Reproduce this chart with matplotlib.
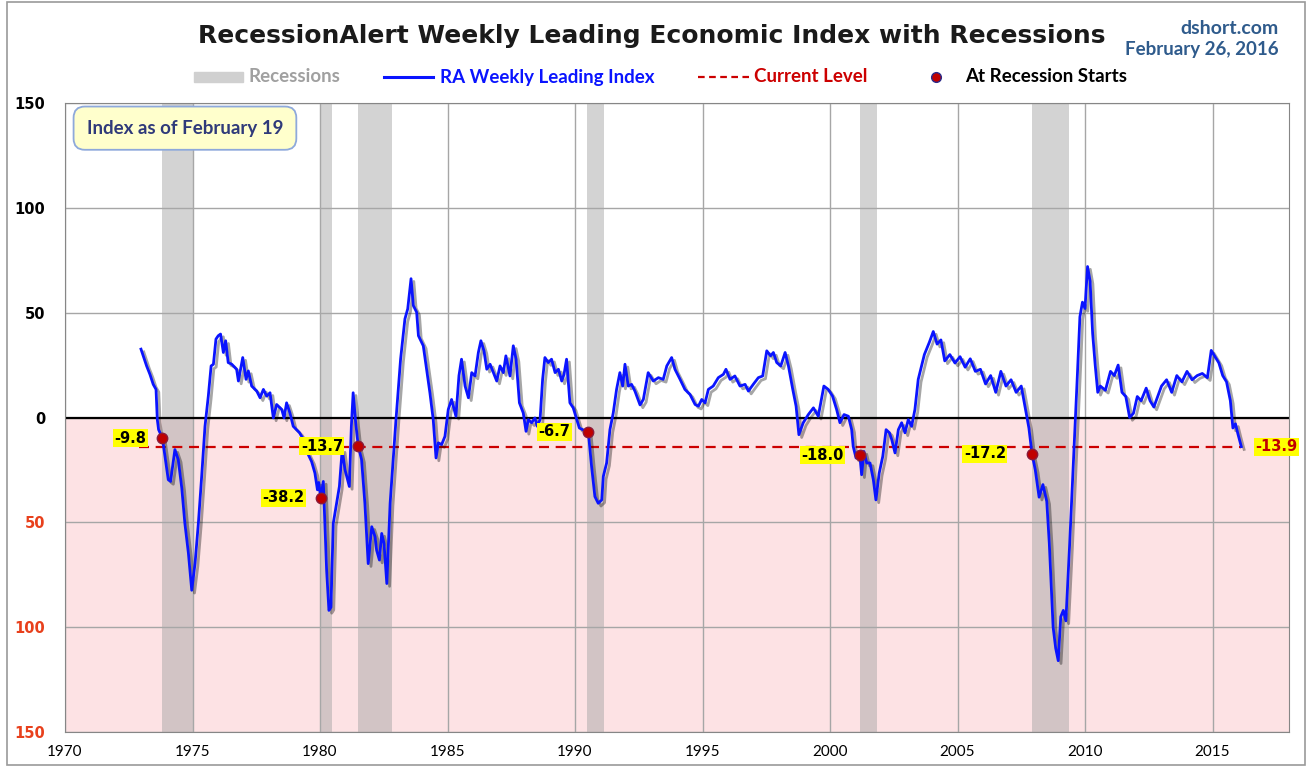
import matplotlib.pyplot as plt
import matplotlib.patheffects as pe
from matplotlib.patches import Rectangle
from matplotlib.lines import Line2D

# RA Weekly Leading Index
years = [1972.98, 1973.20, 1973.33, 1973.46, 1973.57, 1973.62, 1973.67, 1973.82, 1973.92, 1974.05,
         1974.14, 1974.31, 1974.44, 1974.58, 1974.70, 1974.84, 1974.97, 1975.10, 1975.23, 1975.36,
         1975.49, 1975.62, 1975.73, 1975.82, 1975.92, 1976.01, 1976.10, 1976.21, 1976.30, 1976.40,
         1976.54, 1976.73, 1976.80, 1976.97, 1977.10, 1977.19, 1977.32, 1977.52, 1977.65, 1977.78,
         1977.91, 1978.04, 1978.17, 1978.30, 1978.50, 1978.59, 1978.69, 1978.82, 1978.95, 1979.20,
         1979.35, 1979.48, 1979.67, 1979.80, 1979.90, 1979.95, 1980.03, 1980.13, 1980.26, 1980.35,
         1980.43, 1980.52, 1980.65, 1980.76, 1980.87, 1980.98, 1981.15, 1981.23, 1981.30, 1981.40,
         1981.50, 1981.63, 1981.76, 1981.89, 1982.03, 1982.16, 1982.22, 1982.33, 1982.42, 1982.51,
         1982.62, 1982.75, 1982.87, 1982.98, 1983.07, 1983.16, 1983.33, 1983.44, 1983.57, 1983.66,
         1983.79, 1983.86, 1984.05, 1984.18, 1984.31, 1984.44, 1984.55, 1984.64, 1984.77, 1984.90,
         1985.03, 1985.16, 1985.33, 1985.45, 1985.55, 1985.69, 1985.82, 1985.95, 1986.08, 1986.21,
         1986.31, 1986.43, 1986.54, 1986.67, 1986.80, 1986.93, 1987.06, 1987.19, 1987.29, 1987.45,
         1987.58, 1987.69, 1987.82, 1987.97, 1988.08, 1988.17, 1988.30, 1988.43, 1988.52, 1988.63,
         1988.73, 1988.82, 1988.95, 1989.08, 1989.22, 1989.35, 1989.48, 1989.57, 1989.67, 1989.80,
         1989.93, 1990.07, 1990.17, 1990.30, 1990.52, 1990.65, 1990.78, 1990.91, 1991.05, 1991.11,
         1991.24, 1991.37, 1991.50, 1991.63, 1991.76, 1991.87, 1991.96, 1992.09, 1992.22, 1992.35,
         1992.55, 1992.68, 1992.87, 1993.07, 1993.27, 1993.46, 1993.60, 1993.79, 1993.92, 1994.12,
         1994.31, 1994.51, 1994.71, 1994.84, 1994.97, 1995.10, 1995.23, 1995.42, 1995.62, 1995.82,
         1995.92, 1996.08, 1996.27, 1996.47, 1996.67, 1996.80, 1996.99, 1997.19, 1997.36, 1997.52,
         1997.67, 1997.78, 1997.91, 1998.07, 1998.24, 1998.37, 1998.54, 1998.67, 1998.78, 1998.95,
         1999.15, 1999.35, 1999.54, 1999.76, 1999.93, 2000.10, 2000.26, 2000.39, 2000.55, 2000.72,
         2000.85, 2000.91, 2001.02, 2001.17, 2001.24, 2001.33, 2001.44, 2001.57, 2001.70, 2001.80,
         2001.93, 2002.07, 2002.20, 2002.33, 2002.42, 2002.55, 2002.68, 2002.81, 2002.94, 2003.07,
         2003.20, 2003.33, 2003.46, 2003.70, 2003.90, 2004.05, 2004.20, 2004.35, 2004.50, 2004.70,
         2004.90, 2005.10, 2005.30, 2005.50, 2005.70, 2005.90, 2006.10, 2006.30, 2006.50, 2006.70,
         2006.90, 2007.10, 2007.30, 2007.50, 2007.65, 2007.80, 2007.92, 2008.05, 2008.20, 2008.35,
         2008.50, 2008.60, 2008.75, 2008.85, 2008.95, 2009.05, 2009.15, 2009.25, 2009.40, 2009.55,
         2009.70, 2009.80, 2009.90, 2010.00, 2010.10, 2010.20, 2010.30, 2010.40, 2010.50, 2010.60,
         2010.80, 2011.00, 2011.15, 2011.30, 2011.45, 2011.60, 2011.75, 2011.90, 2012.05, 2012.20,
         2012.40, 2012.55, 2012.70, 2012.85, 2013.00, 2013.20, 2013.40, 2013.60, 2013.80, 2014.00,
         2014.20, 2014.40, 2014.60, 2014.80, 2014.95, 2015.10, 2015.25, 2015.40, 2015.55, 2015.70,
         2015.80, 2015.90, 2016.00, 2016.13]
index_vals = [32.6, 24.6, 20.6, 15.8, 13.4, -1.0, -5.8, -9.8, -18.5, -29.7,
              -30.5, -15.3, -20.0, -33.7, -50.4, -64.8, -82.4, -69.6, -50.4, -28.0,
              -4.2, 10.2, 24.6, 25.4, 37.4, 39.0, 39.8, 31.0, 36.6, 26.2,
              25.4, 23.0, 17.4, 28.6, 18.2, 22.2, 15.0, 12.6, 9.4, 13.4,
              10.2, 11.8, -0.2, 6.2, 3.8, -0.2, 7.0, 2.2, -4.2, -7.3,
              -10.5, -16.2, -21.0, -26.5, -34.5, -31.0, -38.2, -30.5, -72.9, -92.0,
              -90.5, -50.5, -40.9, -32.9, -15.3, -24.9, -32.9, -4.2, 11.8, -2.5,
              -13.7, -20.1, -40.9, -69.7, -52.1, -56.9, -63.3, -68.0, -55.3, -60.1,
              -79.2, -40.9, -20.1, -1.0, 13.4, 27.8, 47.0, 51.8, 66.2, 53.4,
              50.2, 39.0, 34.2, 23.0, 11.8, -1.0, -19.3, -12.1, -12.9, -9.0,
              3.8, 8.6, 0.6, 20.0, 27.8, 15.0, 9.4, 21.4, 19.8, 31.0,
              36.6, 31.8, 23.0, 25.4, 21.4, 17.4, 24.6, 21.4, 29.4, 19.8,
              34.2, 27.8, 7.0, 2.2, -6.6, -1.0, -2.5, -0.2, -4.2, -1.0,
              18.2, 28.6, 26.2, 27.8, 21.4, 23.0, 17.4, 20.6, 27.8, 7.0,
              4.6, -1.0, -5.0, -5.8, -6.7, -23.3, -37.7, -40.9, -39.3, -28.1,
              -21.7, -5.8, 2.2, 13.4, 21.4, 15.0, 25.4, 15.0, 15.8, 12.6,
              6.0, 8.6, 21.4, 17.4, 19.0, 18.2, 24.6, 28.6, 23.0, 18.2,
              13.4, 11.0, 6.2, 5.4, 8.6, 7.0, 13.4, 15.0, 19.0, 20.6,
              23.0, 18.2, 19.8, 15.0, 15.8, 12.6, 15.8, 19.0, 19.8, 31.8,
              29.4, 31.0, 26.2, 24.6, 31.0, 24.6, 13.4, 5.4, -8.2, -2.5,
              1.4, 4.6, 0.6, 15.0, 13.4, 10.2, 3.8, -2.5, 1.4, 0.6,
              -5.8, -13.8, -19.3, -18.0, -27.3, -16.2, -21.7, -21.7, -29.7, -39.3,
              -26.5, -18.5, -5.8, -7.3, -10.5, -16.9, -5.8, -2.5, -7.3, -1.0,
              -4.2, 3.8, 18.2, 30.0, 36.0, 41.0, 35.0, 37.0, 27.0, 30.0,
              26.0, 29.0, 24.0, 28.0, 22.0, 23.0, 16.0, 20.0, 12.0, 22.0,
              15.0, 18.0, 12.0, 15.0, 5.0, -5.0, -17.2, -25.0, -38.0, -32.0,
              -40.0, -60.0, -100.0, -110.0, -116.0, -95.0, -92.0, -97.0, -60.0, -20.0,
              20.0, 48.0, 55.0, 52.0, 72.0, 65.0, 40.0, 25.0, 12.0, 15.0,
              13.0, 22.0, 20.0, 25.0, 12.0, 10.0, 0.0, 2.0, 10.0, 8.0,
              14.0, 8.0, 5.0, 10.0, 15.0, 18.0, 12.0, 20.0, 17.0, 22.0,
              18.0, 20.0, 21.0, 19.0, 32.0, 29.0, 26.0, 20.0, 17.0, 8.0,
              -5.0, -3.0, -8.0, -13.9]

rec_start = [1973.80, 1980.00, 1981.49, 1990.47, 2001.18, 2007.92]
rec_end = [1975.06, 1980.47, 1982.82, 1991.14, 2001.84, 2009.37]

start_years = [1973.82, 1980.03, 1981.50, 1990.52, 2001.17, 2007.92]
start_vals = [-9.8, -38.2, -13.7, -6.7, -18.0, -17.2]
start_labels = ['-9.8', '-38.2', '-13.7', '-6.7', '-18.0', '-17.2']
label_dx = [-11.5, -12, -11, -13, -11.5, -18.7]

current = -13.9
current_from = 1972.9
current_to = 2016.13

yticks = [-150, -100, -50, 0, 50, 100, 150]
xticks = [1970, 1975, 1980, 1985, 1990, 1995, 2000, 2005, 2010, 2015]

fig = plt.figure(figsize=(13.12, 7.67), dpi=100)
ax = fig.add_axes([65 / 1312, 1 - 732 / 767, 1224 / 1312, 629 / 767])

ax.axhspan(-150, 0, color='#FDE2E4', zorder=0)
for s, e in zip(rec_start, rec_end):
    ax.axvspan(s, e, color='#A8A8A8', alpha=0.5, lw=0, zorder=1)

ax.set_xlim(1970, 2018)
ax.set_ylim(-150, 150)
ax.set_xticks(xticks)
ax.set_yticks(yticks)
ax.grid(True, color='#A6A6A6', lw=1)
ax.set_axisbelow(True)
ax.axhline(0, color='black', lw=1.6, zorder=2)

ax.plot(years, index_vals, color='#0A14FF', lw=2.0, zorder=4,
        path_effects=[pe.SimpleLineShadow(offset=(2, -2), shadow_color='black', alpha=0.35),
                      pe.Normal()])
ax.plot([current_from, current_to], [current, current], color='#CC0000', lw=1.6,
        ls=(0, (4.5, 3)), zorder=3)
ax.plot(start_years, start_vals, 'o', color='#C00000', mec='#8B1A3A', ms=7.5, zorder=5)

for x, y, t, dx in zip(start_years, start_vals, start_labels, label_dx):
    ax.annotate(t, (x, y), xytext=(dx, 0), textcoords='offset points', ha='right', va='center',
                fontsize=10.5, fontweight='bold', color='black', zorder=6,
                bbox=dict(boxstyle='square,pad=0.1', fc='#FFFF00', ec='none'))
ax.annotate('%.1f' % current, (current_to, current), xytext=(10, 0), textcoords='offset points',
            ha='left', va='center', fontsize=10.5, fontweight='bold', color='#C00000', zorder=6,
            bbox=dict(boxstyle='square,pad=0.1', fc='#FFFF00', ec='none'))

ax.text(0.098, 0.96, 'Index as of February 19', transform=ax.transAxes, ha='center', va='center',
        fontsize=13.5, fontweight='bold', color='#2F3A7A', family='Lato', zorder=7,
        bbox=dict(boxstyle='round,pad=0.7,rounding_size=0.6', fc='#FFFFCC', ec='#8EA9DB', lw=1.3))

for sp in ax.spines.values():
    sp.set_color('#868686')
ax.tick_params(length=0)
ax.tick_params(axis='y', pad=14)
ax.tick_params(axis='x', pad=9)
ax.set_yticklabels([str(abs(v)) for v in yticks], fontsize=10.5, fontweight='bold')
for lab, v in zip(ax.get_yticklabels(), yticks):
    lab.set_color('#E8401C' if v < 0 else 'black')
ax.set_xticklabels([str(v) for v in xticks], fontsize=11, family='Lato')

# title and source
fig.text(652 / 1312, 1 - 36 / 767, 'RecessionAlert Weekly Leading Economic Index with Recessions',
         ha='center', va='center', fontsize=18, fontweight='bold', color='#1A1A1A')
fig.text(1279 / 1312, 1 - 28 / 767, 'dshort.com', ha='right', va='center', fontsize=14,
         fontweight='bold', color='#2F5B8C', family='Lato')
fig.text(1279 / 1312, 1 - 49 / 767, 'February 26, 2016', ha='right', va='center', fontsize=13.5,
         fontweight='bold', color='#2F5B8C', family='Lato')

# legend row
ly = 1 - 77 / 767
fig.patches.append(Rectangle((194 / 1312, ly - 5 / 767), 49 / 1312, 10 / 767,
                             transform=fig.transFigure, color='#D0D0D0'))
fig.text(249 / 1312, ly, 'Recessions', ha='left', va='center', fontsize=13.5,
         color='#A0A0A0', fontweight='bold', family='Lato')
fig.lines.append(Line2D([384 / 1312, 433 / 1312], [ly, ly], transform=fig.transFigure,
                        color='#0A14FF', lw=2.2))
fig.text(440 / 1312, ly, 'RA Weekly Leading Index', ha='left', va='center', fontsize=13.5,
         color='#0A14FF', fontweight='bold', family='Lato')
fig.lines.append(Line2D([698 / 1312, 749 / 1312], [ly, ly], transform=fig.transFigure,
                        color='#CC0000', lw=1.6, ls=(0, (3, 2))))
fig.text(754 / 1312, ly, 'Current Level', ha='left', va='center', fontsize=13.5,
         color='#CC0000', fontweight='bold', family='Lato')
fig.lines.append(Line2D([936 / 1312], [ly], transform=fig.transFigure, marker='o', ms=7,
                        color='#C00000', mec='#2A2A8A', ls='none'))
fig.text(965 / 1312, ly, 'At Recession Starts', ha='left', va='center', fontsize=13.5,
         color='black', fontweight='bold', family='Lato')

# outer frame
fig.patches.append(Rectangle((7 / 1312, 2 / 767), 1298 / 1312, 763 / 767, transform=fig.transFigure,
                             fill=False, ec='#9A9A9A', lw=1.2))

fig.savefig('out.png', dpi=100)
